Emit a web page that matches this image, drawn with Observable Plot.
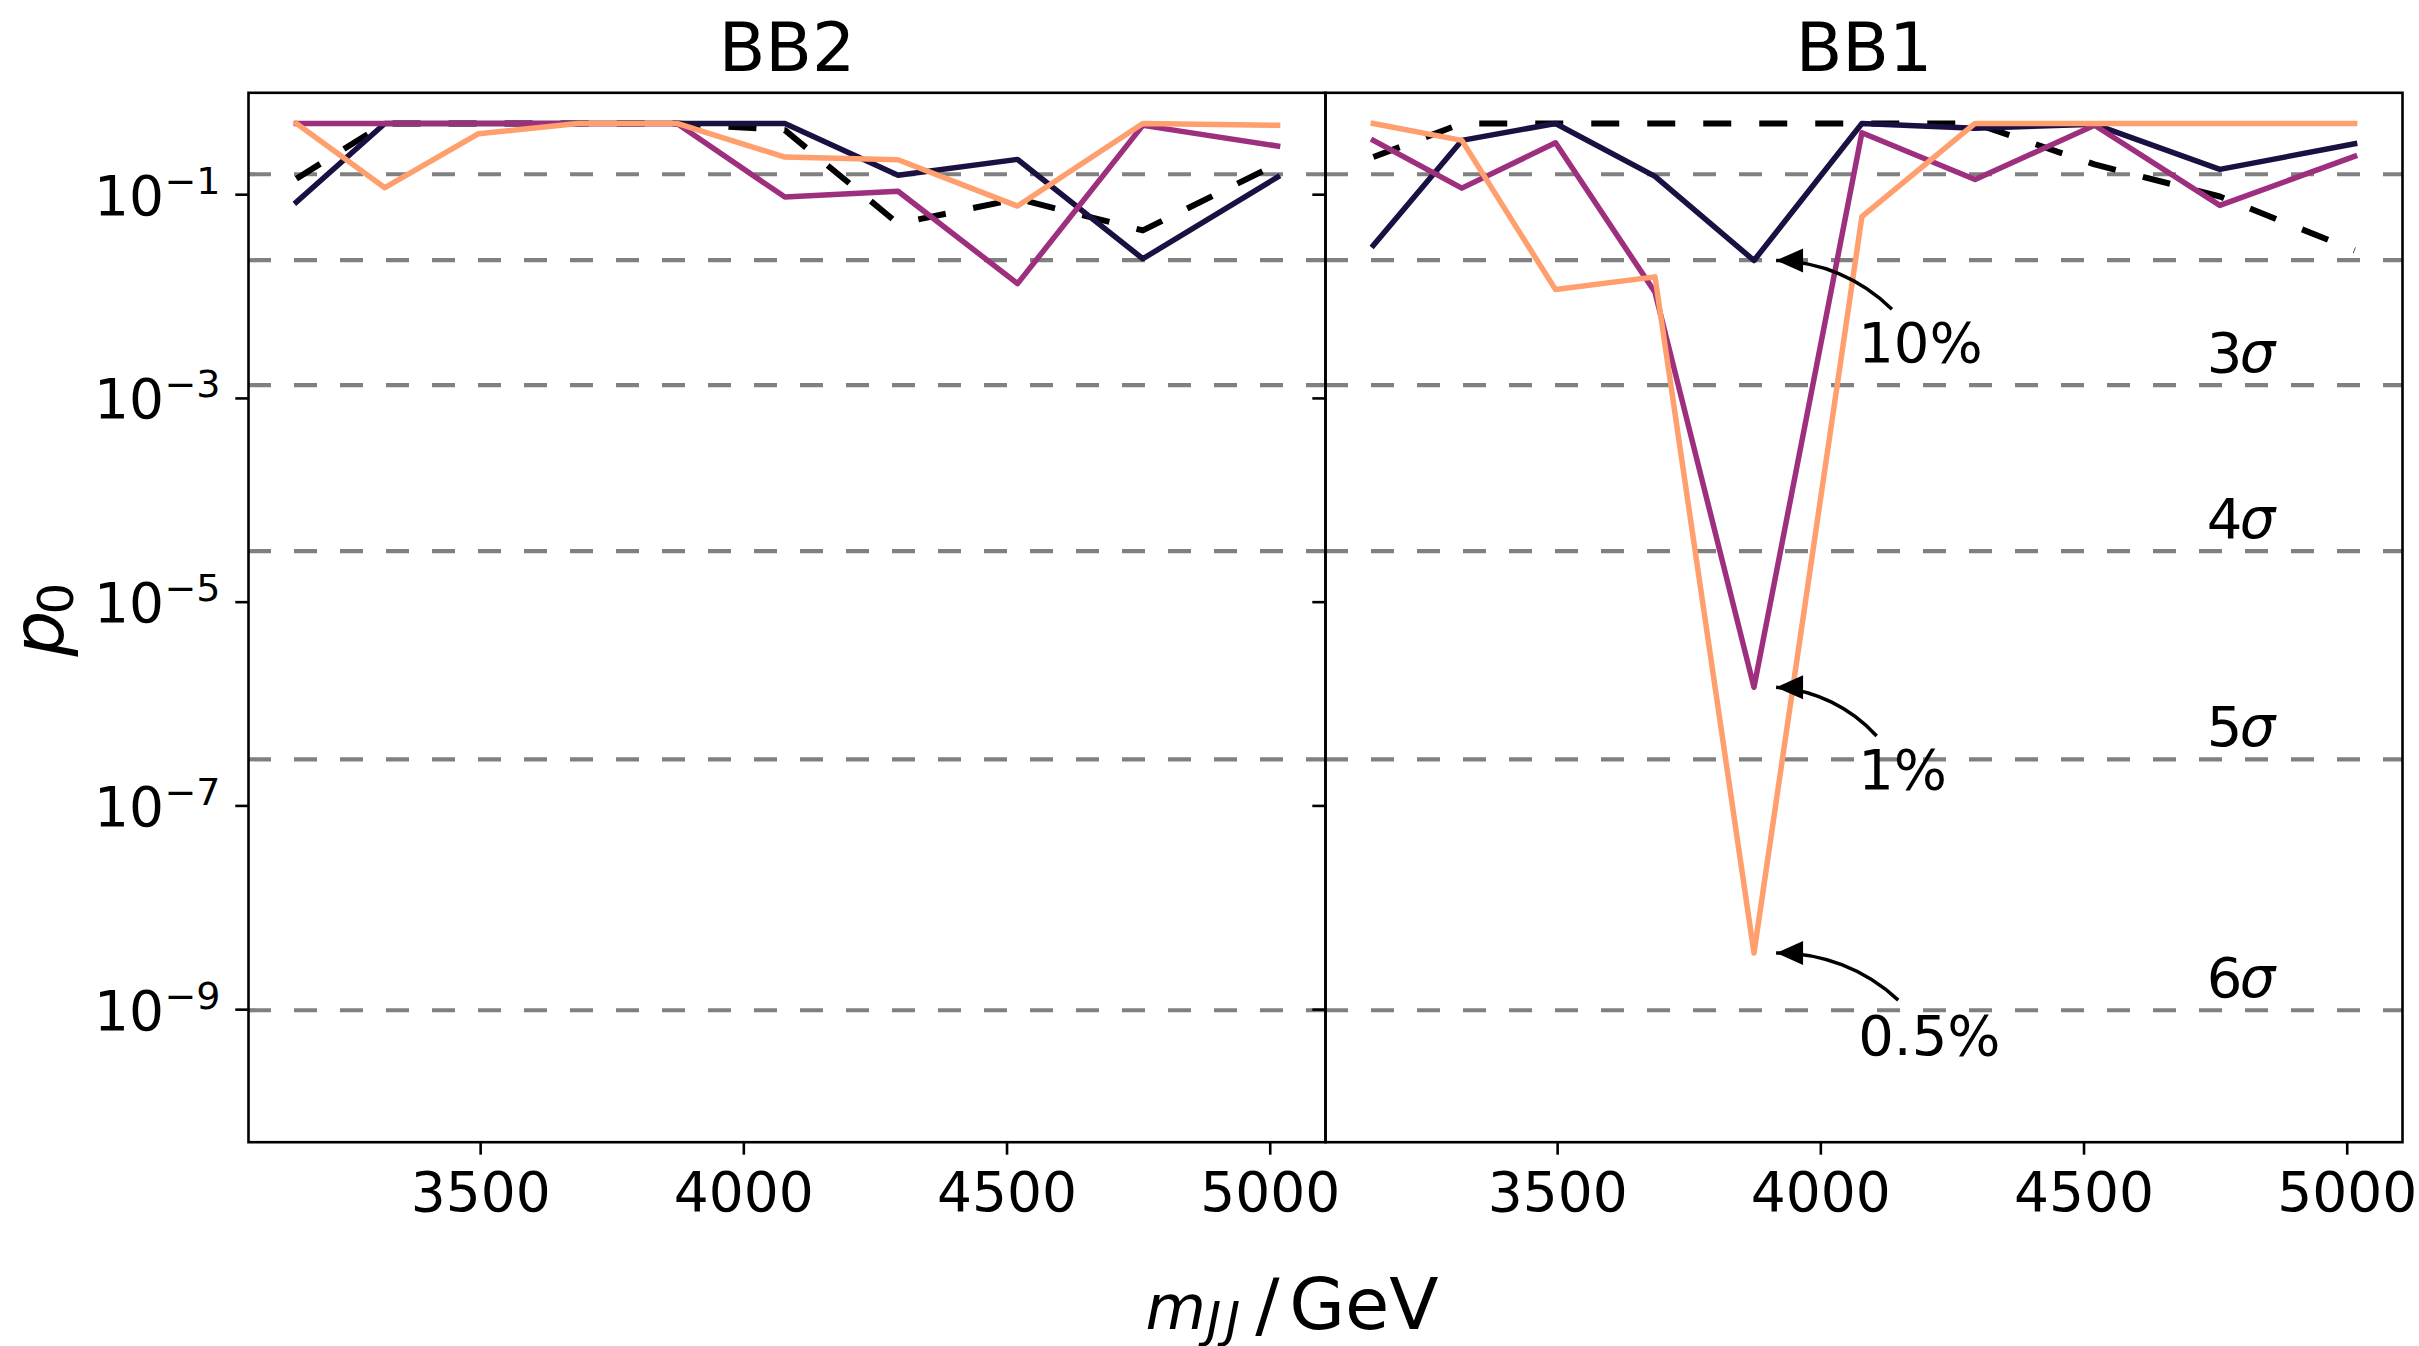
<!DOCTYPE html>
<html>
<head>
<meta charset="utf-8">
<script src="https://cdn.jsdelivr.net/npm/d3@7"></script>
<script src="https://cdn.jsdelivr.net/npm/@observablehq/plot@0.6"></script>
<style>
  html, body { margin: 0; padding: 0; background: #fff; }
  svg { display: block; }
</style>
</head>
<body>
<div id="chart"></div>
<script>
// ---------- data ----------
const panels = ["BB2", "BB1"];
const mjj = [3150, 3318, 3496, 3685, 3873, 4078, 4293, 4520, 4758, 5014];

const seriesNames = ["bkg", "10%", "1%", "0.5%"];
const seriesColors = ["#000000", "#1a1042", "#9e2f7f", "#fe9f6d"];

// BB2 panel
const bb2Bkg = [0.1435, 0.5, 0.5, 0.5, 0.5, 0.43, 0.052, 0.091, 0.0446, 0.201];
const bb2S10 = [0.0846, 0.5, 0.5, 0.5, 0.5, 0.5, 0.155, 0.222, 0.0235, 0.149];
const bb2S1  = [0.5, 0.5, 0.5, 0.5, 0.5, 0.0947, 0.108, 0.0134, 0.479, 0.30];
const bb2S05 = [0.5, 0.117, 0.397, 0.5, 0.5, 0.234, 0.220, 0.0773, 0.5, 0.48];

// BB1 panel
const bb1Bkg = [0.234, 0.5, 0.5, 0.5, 0.5, 0.5, 0.5, 0.198, 0.096, 0.0284];
const bb1S10 = [0.0318, 0.341, 0.5, 0.151, 0.0226, 0.5, 0.45, 0.49, 0.177, 0.316];
const bb1S1  = [0.341, 0.116, 0.323, 0.011, 1.46e-6, 0.405, 0.141, 0.48, 0.0785, 0.238];
const bb1S05 = [0.5, 0.341, 0.0117, 0.0156, 3.6e-9, 0.0608, 0.5, 0.5, 0.5, 0.5];

// significance reference lines (one-sided p-values for 1..6 sigma)
const sigmaN = [1, 2, 3, 4, 5, 6];
const sigmaP = [0.1587, 0.02275, 1.35e-3, 3.167e-5, 2.867e-7, 9.866e-10];
const sigmaLabelN = ["3", "4", "5", "6"];
const sigmaLabelP = [1.35e-3, 3.167e-5, 2.867e-7, 9.866e-10];
const sigmaLabelX = 4733;

// ticks
const xTicks = [3500, 4000, 4500, 5000];
const yTicks = [1e-1, 1e-3, 1e-5, 1e-7, 1e-9];
const yTickExp = ["\u22121", "\u22123", "\u22125", "\u22127", "\u22129"];

// annotations in BB1 panel
const annLabels = ["10%", "1%", "0.5%"];
const annPointP = [bb1S10[4], bb1S1[4], bb1S05[4]];
const annTipX = 3915;
const annTextX = 4071;
const annTextP = [2.3e-3, 1.45e-7, 3.6e-10];
const annTailX = [4135, 4106, 4147];
const annTailP = [7.5e-3, 4.86e-7, 1.24e-9];

// ---------- tables ----------
const rows = [];
function addSeries(panel, series, vals) {
  vals.forEach((p, i) => rows.push({panel, series, mjj: mjj[i], p}));
}
addSeries("BB2", "bkg", bb2Bkg);
addSeries("BB2", "10%", bb2S10);
addSeries("BB2", "1%", bb2S1);
addSeries("BB2", "0.5%", bb2S05);
addSeries("BB1", "bkg", bb1Bkg);
addSeries("BB1", "10%", bb1S10);
addSeries("BB1", "1%", bb1S1);
addSeries("BB1", "0.5%", bb1S05);

const ann = annLabels.map((label, i) => ({
  label, px: annTipX, p: annPointP[i], tx: annTextX, tp: annTextP[i], ax: annTailX[i], ap: annTailP[i]
}));
const sig = sigmaLabelN.map((n, i) => ({n, p: sigmaLabelP[i]}));

const headSymbol = {
  draw(context) {
    context.moveTo(0, 0);
    context.lineTo(27, -12);
    context.lineTo(27, 12);
    context.closePath();
  }
};

const FONT = "DejaVu Sans";
const lineMark = (name, extra) => Plot.line(rows.filter(d => d.series === name), {
  x: "mjj", y: "p", fx: "panel",
  stroke: seriesColors[seriesNames.indexOf(name)],
  strokeWidth: 5.5, strokeLinejoin: "round", strokeLinecap: "square",
  ...extra
});

const chart = Plot.plot({
  width: 2419,
  height: 1346,
  marginLeft: 247.7,
  marginRight: 16,
  marginTop: 92.3,
  marginBottom: 204.3,
  style: {fontFamily: FONT, background: "white", color: "black", overflow: "visible"},
  fx: {domain: panels, padding: 0, axis: null, label: null},
  x: {type: "linear", domain: [3059, 5105], label: null},
  y: {type: "log", domain: [5e-11, 1], label: null},
  marks: [
    Plot.ruleY(sigmaP, {stroke: "#808080", strokeWidth: 4.2, strokeDasharray: "23,23"}),
    lineMark("bkg", {strokeWidth: 6, strokeDasharray: "28,28", strokeLinecap: "butt"}),
    lineMark("10%"),
    lineMark("1%"),
    lineMark("0.5%"),
    Plot.frame({stroke: "black", strokeWidth: 2.6}),
    // x axis
    Plot.axisX({ticks: xTicks, tickSize: 13, tickPadding: 16.3, fontSize: 55, strokeWidth: 2.6,
      tickFormat: d3.format("d"), label: null}),
    // y axis ticks on every panel
    Plot.axisY({ticks: yTicks, tickSize: 12.7, tickFormat: () => "", strokeWidth: 2.6,
      facetAnchor: null, label: null}),
    // y tick labels (left panel)
    Plot.text(yTicks, {y: d => d, fx: () => "BB2", text: () => "10", frameAnchor: "left",
      textAnchor: "end", lineAnchor: "bottom", dx: -84.5, dy: 20, fontSize: 55}),
    Plot.text(yTicks, {y: d => d, fx: () => "BB2", text: (d, i) => yTickExp[i], frameAnchor: "left",
      textAnchor: "start", lineAnchor: "bottom", dx: -84, dy: -1, fontSize: 38}),
    // panel titles
    Plot.text(panels, {fx: d => d, text: d => d, frameAnchor: "top", lineAnchor: "bottom",
      dy: -22.3, fontSize: 68}),
    // y label p_0
    Plot.text(["p"], {fx: () => "BB2", text: d => d, frameAnchor: "left", rotate: -90,
      textAnchor: "start", lineAnchor: "bottom", dx: -185.7, dy: 39, fontSize: 72, fontStyle: "italic"}),
    Plot.text(["0"], {fx: () => "BB2", text: d => d, frameAnchor: "left", rotate: -90,
      textAnchor: "start", lineAnchor: "bottom", dx: -175.7, dy: -3, fontSize: 50}),
    // x label m_JJ / GeV
    Plot.text(["m"], {fx: () => "BB2", text: d => d, frameAnchor: "bottom-right",
      textAnchor: "start", lineAnchor: "bottom", dx: -180, dy: 186.3, fontSize: 62, fontStyle: "italic"}),
    Plot.text(["J"], {fx: () => "BB2", text: d => d, frameAnchor: "bottom-right",
      textAnchor: "start", lineAnchor: "bottom", dx: -119, dy: 195, fontSize: 50, fontStyle: "italic"}),
    Plot.text(["J"], {fx: () => "BB2", text: d => d, frameAnchor: "bottom-right",
      textAnchor: "start", lineAnchor: "bottom", dx: -100, dy: 195, fontSize: 50, fontStyle: "italic"}),
    Plot.text(["/"], {fx: () => "BB2", text: d => d, frameAnchor: "bottom-right",
      textAnchor: "start", lineAnchor: "bottom", dx: -70.3, dy: 186.3, fontSize: 72}),
    Plot.text(["GeV"], {fx: () => "BB2", text: d => d, frameAnchor: "bottom-right",
      textAnchor: "start", lineAnchor: "bottom", dx: -36.3, dy: 186.3, fontSize: 72}),
    // sigma labels
    Plot.text(sig, {x: () => sigmaLabelX, y: "p", fx: () => "BB1", text: "n",
      textAnchor: "start", lineAnchor: "bottom", dy: -13, fontSize: 56}),
    Plot.text(sig, {x: () => sigmaLabelX, y: "p", fx: () => "BB1", text: () => "\u03c3",
      textAnchor: "start", lineAnchor: "bottom", dx: 33, dy: -13, fontSize: 56, fontStyle: "italic"}),
    // annotations
    Plot.arrow(ann, {x1: "ax", y1: "ap", x2: "px", y2: "p", fx: () => "BB1", bend: -22,
      headLength: 0, stroke: "black", strokeWidth: 3.5, strokeLinecap: "butt"}),
    Plot.dot(ann, {x: "px", y: "p", fx: () => "BB1", symbol: headSymbol, r: 10,
      fill: "black", stroke: "none"}),
    Plot.text(ann, {x: "tx", y: "tp", fx: () => "BB1", text: "label",
      textAnchor: "start", lineAnchor: "bottom", fontSize: 56})
  ]
});

document.getElementById("chart").appendChild(chart);
</script>
</body>
</html>
